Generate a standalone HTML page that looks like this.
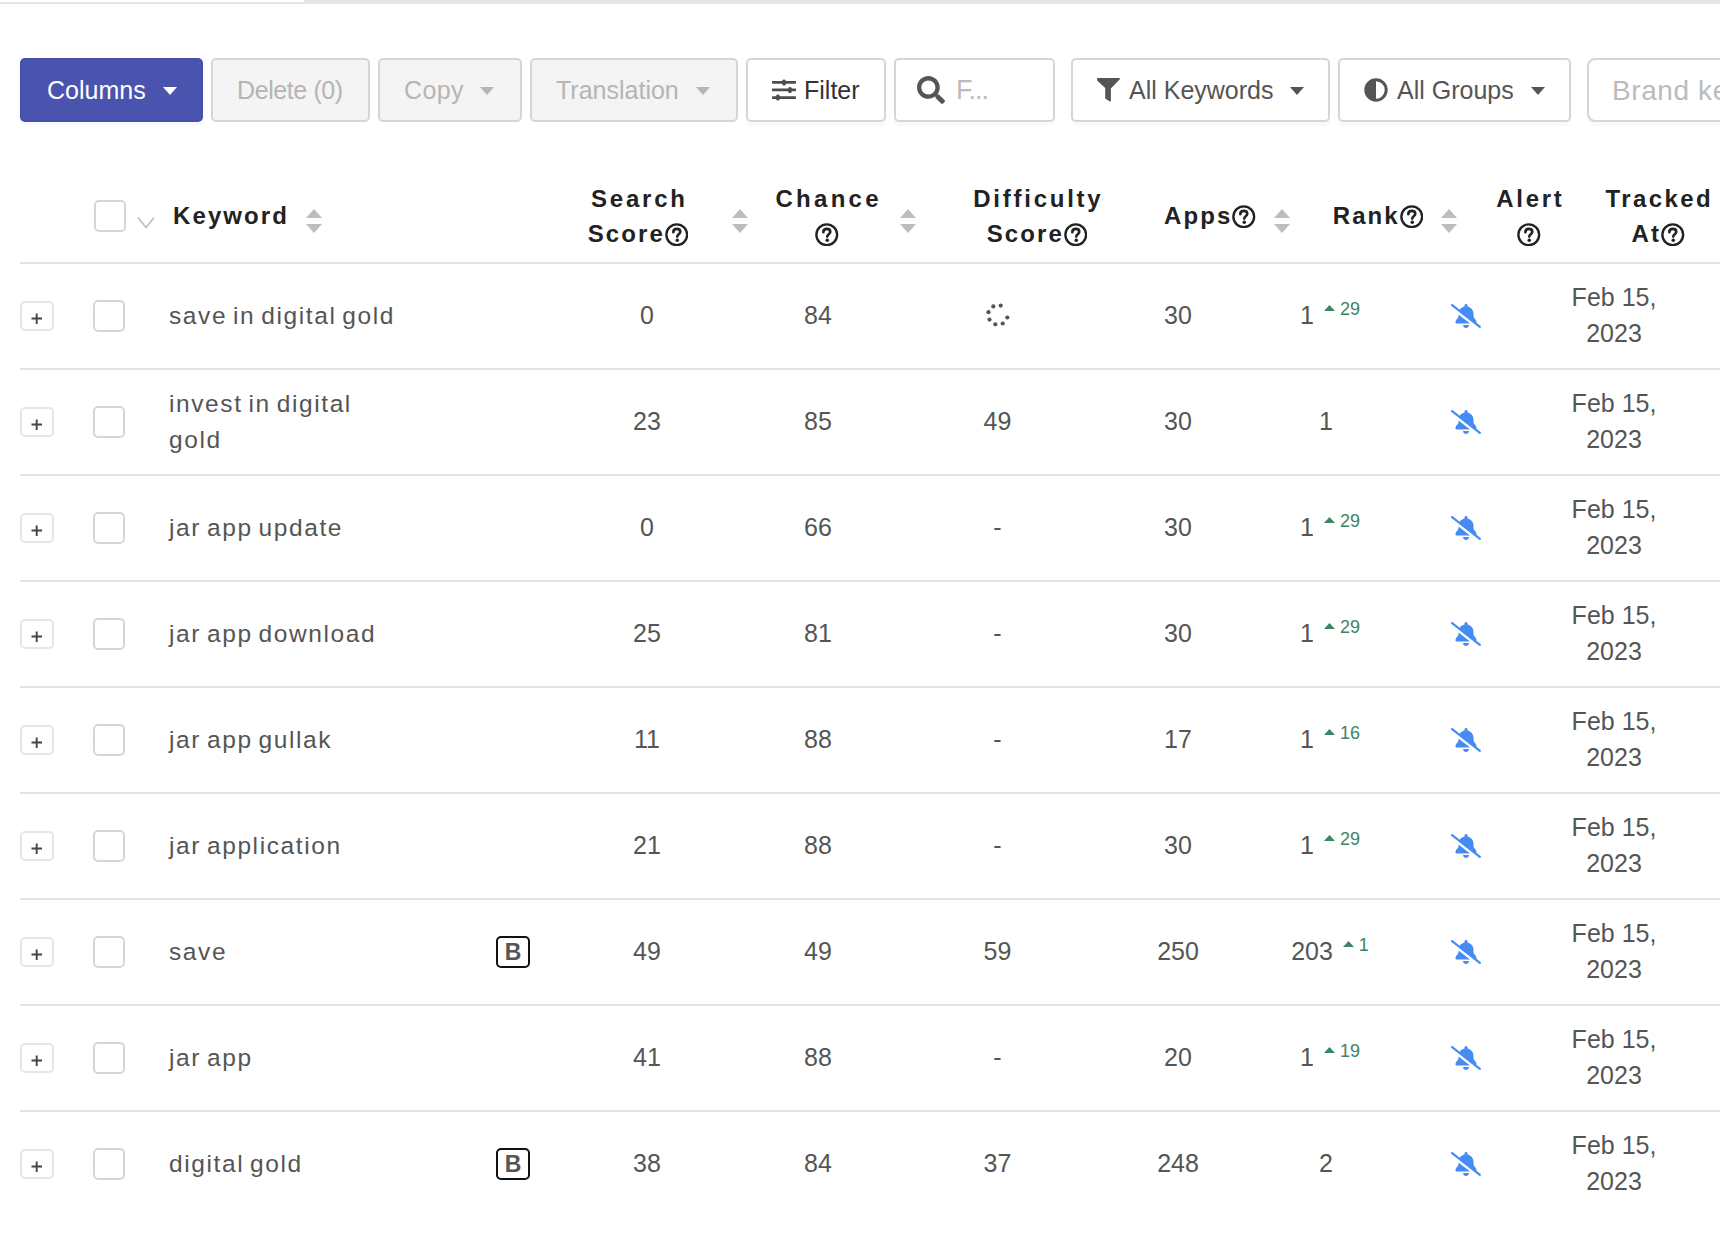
<!DOCTYPE html>
<html><head><meta charset="utf-8"><title>Keywords</title><style>
*{box-sizing:border-box;margin:0;padding:0}
html,body{width:1720px;height:1244px;overflow:hidden;background:#fff}
body{position:relative;font-family:"Liberation Sans", sans-serif;color:#555}
.a{position:absolute}
.btn{position:absolute;top:58px;height:64px;border:2px solid #d6d6d6;border-radius:5px;background:#fff;box-shadow:0 4px 0 rgba(0,0,0,0.02)}
.btn.dis{box-shadow:none}
.btn.dis{background:#f4f4f4}
.bt{position:absolute;font-size:25px;line-height:30px;top:75px;white-space:nowrap}
.car{position:absolute;width:0;height:0;border-left:7px solid transparent;border-right:7px solid transparent;border-top:8px solid #555}
.hl{position:absolute;left:20px;width:1700px;height:2px;background:#e4e4e4}
.ht{position:absolute;font-weight:bold;font-size:24px;line-height:35.5px;color:#222;letter-spacing:2.1px;white-space:nowrap}
.sort{position:absolute;width:16px;height:25px}
.qm{display:inline-block;vertical-align:top}
.pl{position:absolute;left:20px;width:34px;height:30px;border:2px solid #e6e6e6;border-radius:5px}
.cb{position:absolute;left:93px;width:32px;height:32px;border:2px solid #d6d6d6;border-radius:5px}
.kw{position:absolute;left:169px;font-size:24.5px;line-height:36px;letter-spacing:1.6px;word-spacing:-2.5px;color:#555;white-space:nowrap}
.num{position:absolute;font-size:25px;line-height:36px;color:#555;text-align:center;white-space:nowrap}
.sup{font-size:18px;color:#3b8566}
.bdg{position:absolute;left:496px;width:34px;height:32px;border:2px solid #111;border-radius:5px;text-align:center;font-weight:bold;font-size:23px;line-height:28px;color:#555}
.date{position:absolute;left:1554px;width:120px;text-align:center;font-size:25px;line-height:36px;color:#555}
</style></head>
<body>
<div class="a" style="left:0;top:0;width:1720px;height:4px;background:#e6e6e6"></div>
<div class="a" style="left:0;top:0;width:304px;height:2px;background:#fff"></div>
<div class="btn" style="left:20px;width:183px;background:#4a54ae;border-color:#4550aa"></div>
<div class="bt" style="left:47px;color:#fff">Columns</div>
<div class="car" style="left:163px;top:87px;border-left-width:7.0px;border-right-width:7.0px;border-top-width:8px;border-top-color:#fff"></div>
<div class="btn dis" style="left:211px;width:159px"></div>
<div class="bt" style="left:237px;color:#b5b5b5;letter-spacing:-0.4px">Delete (0)</div>
<div class="btn dis" style="left:378px;width:144px"></div>
<div class="bt" style="left:404px;color:#b5b5b5;letter-spacing:0.4px">Copy</div>
<div class="car" style="left:480px;top:87px;border-left-width:7.0px;border-right-width:7.0px;border-top-width:8px;border-top-color:#b5b5b5"></div>
<div class="btn dis" style="left:530px;width:208px"></div>
<div class="bt" style="left:556px;color:#b5b5b5">Translation</div>
<div class="car" style="left:696px;top:87px;border-left-width:7.0px;border-right-width:7.0px;border-top-width:8px;border-top-color:#b5b5b5"></div>
<div class="btn" style="left:746px;width:140px"></div>
<svg class="a" style="left:772px;top:79px" width="24" height="22" viewBox="0 0 24 22">
<g fill="#4d4d4d"><rect x="0" y="2" width="24" height="2.7" rx="0.6"/><rect x="0" y="9.6" width="24" height="2.7" rx="0.6"/><rect x="0" y="17.2" width="24" height="2.7" rx="0.6"/>
<rect x="10.2" y="0.4" width="3.6" height="6.2" rx="1.5"/><rect x="16.1" y="8.1" width="3.6" height="5.8" rx="1.5"/><rect x="4.1" y="15.6" width="3.6" height="6" rx="1.5"/></g></svg>
<div class="bt" style="left:804px;color:#333">Filter</div>
<div class="btn" style="left:894px;width:161px"></div>
<svg class="a" style="left:917px;top:76px" width="28" height="28" viewBox="0 0 512 512"><path fill="#555" d="M505 442.7L405.3 343c-4.5-4.5-10.6-7-17-7H372c27.6-35.3 44-79.7 44-128C416 93.1 322.9 0 208 0S0 93.1 0 208s93.1 208 208 208c48.3 0 92.7-16.4 128-44v16.3c0 6.4 2.5 12.5 7 17l99.7 99.7c9.4 9.4 24.6 9.4 33.9 0l28.3-28.3c9.4-9.4 9.4-24.6.1-34zM208 336c-70.7 0-128-57.2-128-128 0-70.7 57.2-128 128-128 70.7 0 128 57.2 128 128 0 70.7-57.2 128-128 128z"/></svg>
<div class="bt" style="left:956px;top:75px;color:#bbb;font-size:27px;letter-spacing:-1px">F...</div>
<div class="btn" style="left:1071px;width:259px"></div>
<svg class="a" style="left:1097px;top:78px" width="23" height="24" viewBox="0 0 23 24"><path fill="#555" d="M0.1 0H22.6L23 1L13.9 10.4V23L13.3 23.8L8.2 20.6V10.1L0.1 2.5Z"/></svg>
<div class="bt" style="left:1129px;color:#555">All Keywords</div>
<div class="car" style="left:1290px;top:87px;border-left-width:7.0px;border-right-width:7.0px;border-top-width:8px;border-top-color:#555"></div>
<div class="btn" style="left:1338px;width:233px"></div>
<svg class="a" style="left:1364px;top:78px" width="24" height="24" viewBox="0 0 24 24"><circle cx="12" cy="12" r="10.2" fill="none" stroke="#555" stroke-width="3"/><path fill="#555" d="M12 1.8A10.2 10.2 0 0 0 12 22.2Z"/></svg>
<div class="bt" style="left:1397px;color:#555">All Groups</div>
<div class="car" style="left:1531px;top:87px;border-left-width:7.0px;border-right-width:7.0px;border-top-width:8px;border-top-color:#555"></div>
<div class="btn" style="left:1587px;width:200px;border-radius:8px"></div>
<div class="bt" style="left:1612px;top:74px;color:#bbb;font-size:28px;line-height:34px;letter-spacing:0.6px">Brand keywords</div>
<div class="cb" style="top:200px;left:94px"></div>
<svg class="a" style="left:137px;top:216px" width="18" height="13" viewBox="0 0 18 13"><path d="M1 1.5L9 11.5L17 1.5" fill="none" stroke="#bdbdbd" stroke-width="1.6"/></svg>
<div class="ht" style="left:173px;top:198px">Keyword</div>
<svg class="sort" style="left:306px;top:209px" viewBox="0 0 16 25"><path d="M8 0L16 9H0Z" fill="#bdbdbd"/><path d="M0 15H16L8 24Z" fill="#bdbdbd"/></svg>
<div class="ht" style="left:488px;width:300px;text-align:center;top:180.5px"><span style="letter-spacing:2.8px;margin-right:-2.8px">Search</span></div><div class="ht" style="left:488px;width:300px;text-align:center;top:216.0px">Score<svg class="qm" width="23.5" height="23.5" viewBox="0 0 24 24" style="margin-top:6.5px;margin-left:0px"><circle cx="12" cy="12" r="10.6" fill="none" stroke="#222" stroke-width="2.4"/><path d="M8.5 9.4C8.5 7.3 10.1 6 12.1 6C14.1 6 15.6 7.3 15.6 9C15.6 11.4 12.5 11.6 12.5 13.9" fill="none" stroke="#222" stroke-width="2.7" stroke-linecap="round"/><circle cx="12.5" cy="17.6" r="1.8" fill="#222"/></svg></div>
<svg class="sort" style="left:732px;top:209px" viewBox="0 0 16 25"><path d="M8 0L16 9H0Z" fill="#bdbdbd"/><path d="M0 15H16L8 24Z" fill="#bdbdbd"/></svg>
<div class="ht" style="left:677px;width:300px;text-align:center;top:180.5px"><span style="letter-spacing:3.3px;margin-right:-3.3px">Chance</span></div><div class="ht" style="left:677px;width:300px;text-align:center;top:216.0px"><svg class="qm" width="23.5" height="23.5" viewBox="0 0 24 24" style="margin-top:6.5px;margin-left:0px"><circle cx="12" cy="12" r="10.6" fill="none" stroke="#222" stroke-width="2.4"/><path d="M8.5 9.4C8.5 7.3 10.1 6 12.1 6C14.1 6 15.6 7.3 15.6 9C15.6 11.4 12.5 11.6 12.5 13.9" fill="none" stroke="#222" stroke-width="2.7" stroke-linecap="round"/><circle cx="12.5" cy="17.6" r="1.8" fill="#222"/></svg></div>
<svg class="sort" style="left:900px;top:209px" viewBox="0 0 16 25"><path d="M8 0L16 9H0Z" fill="#bdbdbd"/><path d="M0 15H16L8 24Z" fill="#bdbdbd"/></svg>
<div class="ht" style="left:887px;width:300px;text-align:center;top:180.5px"><span style="letter-spacing:2.75px;margin-right:-2.75px">Difficulty</span></div><div class="ht" style="left:887px;width:300px;text-align:center;top:216.0px">Score<svg class="qm" width="23.5" height="23.5" viewBox="0 0 24 24" style="margin-top:6.5px;margin-left:0px"><circle cx="12" cy="12" r="10.6" fill="none" stroke="#222" stroke-width="2.4"/><path d="M8.5 9.4C8.5 7.3 10.1 6 12.1 6C14.1 6 15.6 7.3 15.6 9C15.6 11.4 12.5 11.6 12.5 13.9" fill="none" stroke="#222" stroke-width="2.7" stroke-linecap="round"/><circle cx="12.5" cy="17.6" r="1.8" fill="#222"/></svg></div>
<div class="ht" style="left:1060px;width:300px;text-align:center;top:198.0px">Apps<svg class="qm" width="23.5" height="23.5" viewBox="0 0 24 24" style="margin-top:6.5px;margin-left:0px"><circle cx="12" cy="12" r="10.6" fill="none" stroke="#222" stroke-width="2.4"/><path d="M8.5 9.4C8.5 7.3 10.1 6 12.1 6C14.1 6 15.6 7.3 15.6 9C15.6 11.4 12.5 11.6 12.5 13.9" fill="none" stroke="#222" stroke-width="2.7" stroke-linecap="round"/><circle cx="12.5" cy="17.6" r="1.8" fill="#222"/></svg></div>
<svg class="sort" style="left:1274px;top:209px" viewBox="0 0 16 25"><path d="M8 0L16 9H0Z" fill="#bdbdbd"/><path d="M0 15H16L8 24Z" fill="#bdbdbd"/></svg>
<div class="ht" style="left:1228px;width:300px;text-align:center;top:198.0px">Rank<svg class="qm" width="23.5" height="23.5" viewBox="0 0 24 24" style="margin-top:6.5px;margin-left:0px"><circle cx="12" cy="12" r="10.6" fill="none" stroke="#222" stroke-width="2.4"/><path d="M8.5 9.4C8.5 7.3 10.1 6 12.1 6C14.1 6 15.6 7.3 15.6 9C15.6 11.4 12.5 11.6 12.5 13.9" fill="none" stroke="#222" stroke-width="2.7" stroke-linecap="round"/><circle cx="12.5" cy="17.6" r="1.8" fill="#222"/></svg></div>
<svg class="sort" style="left:1441px;top:209px" viewBox="0 0 16 25"><path d="M8 0L16 9H0Z" fill="#bdbdbd"/><path d="M0 15H16L8 24Z" fill="#bdbdbd"/></svg>
<div class="ht" style="left:1379px;width:300px;text-align:center;top:180.5px"><span style="letter-spacing:2.7px;margin-right:-2.7px">Alert</span></div><div class="ht" style="left:1379px;width:300px;text-align:center;top:216.0px"><svg class="qm" width="23.5" height="23.5" viewBox="0 0 24 24" style="margin-top:6.5px;margin-left:0px"><circle cx="12" cy="12" r="10.6" fill="none" stroke="#222" stroke-width="2.4"/><path d="M8.5 9.4C8.5 7.3 10.1 6 12.1 6C14.1 6 15.6 7.3 15.6 9C15.6 11.4 12.5 11.6 12.5 13.9" fill="none" stroke="#222" stroke-width="2.7" stroke-linecap="round"/><circle cx="12.5" cy="17.6" r="1.8" fill="#222"/></svg></div>
<div class="ht" style="left:1508px;width:300px;text-align:center;top:180.5px"><span style="letter-spacing:2.4px;margin-right:-2.4px">Tracked</span></div><div class="ht" style="left:1508px;width:300px;text-align:center;top:216.0px">At<svg class="qm" width="23.5" height="23.5" viewBox="0 0 24 24" style="margin-top:6.5px;margin-left:0px"><circle cx="12" cy="12" r="10.6" fill="none" stroke="#222" stroke-width="2.4"/><path d="M8.5 9.4C8.5 7.3 10.1 6 12.1 6C14.1 6 15.6 7.3 15.6 9C15.6 11.4 12.5 11.6 12.5 13.9" fill="none" stroke="#222" stroke-width="2.7" stroke-linecap="round"/><circle cx="12.5" cy="17.6" r="1.8" fill="#222"/></svg></div>
<div class="hl" style="top:262px"></div>
<div class="pl" style="top:301px"></div>
<svg class="a" style="left:31px;top:313px" width="12" height="12" viewBox="0 0 12 12"><path d="M0.5 5.5H11M5.7 0.5V11" stroke="#444" stroke-width="1.9"/></svg>
<div class="cb" style="top:300px"></div>
<div class="kw" style="top:298px">save in digital gold</div>
<div class="num" style="left:587px;width:120px;top:297px">0</div>
<div class="num" style="left:758px;width:120px;top:297px">84</div>
<svg class="a" style="left:0;top:0" width="1720" height="1244"><circle cx="993.3" cy="306.4" r="2.1" fill="#555"/><circle cx="1000.7" cy="305.6" r="2.1" fill="#555"/><circle cx="988.5" cy="312.2" r="2.1" fill="#555"/><circle cx="1007.3" cy="317.5" r="2.1" fill="#555"/><circle cx="989.5" cy="319.6" r="2.1" fill="#555"/><circle cx="995.3" cy="324.3" r="2.1" fill="#555"/><circle cx="1002.7" cy="323.5" r="2.1" fill="#555"/></svg>
<div class="num" style="left:1118px;width:120px;top:297px">30</div>
<div class="num" style="left:1250px;width:160px;top:297px">1<svg width="11" height="6" viewBox="0 0 11 6" style="margin-left:10px;position:relative;top:-13.2px"><path d="M5.5 0L11 6H0Z" fill="#3b8566"/></svg><span class="sup" style="position:relative;top:-9.2px;margin-left:5px">29</span></div>
<svg class="a" style="left:1451px;top:304px" width="30" height="24" viewBox="0 0 640 512"><g fill="#448cf4"><path d="M38.8 5.1C28.4-3.1 13.3-1.2 5.1 9.2S-1.2 34.7 9.2 42.9l592 464c10.4 8.2 25.5 6.3 33.7-4.1s6.3-25.5-4.1-33.7l-87.5-68.6c.5-1.7 .7-3.5 .7-5.4c0-27.6-11-54.1-30.5-73.7L512 320c-20.5-20.5-32-48.3-32-77.3V208c0-77.4-55-142-128-156.8V32c0-17.7-14.3-32-32-32s-32 14.3-32 32V51.2c-42.6 8.6-79 34.2-102 69.3L38.8 5.1zM160 242.7c0 29-11.5 56.8-32 77.3l-1.5 1.5C107 341 96 367.5 96 395.2c0 11.5 9.3 20.8 20.8 20.8H406.2L160 222.1v20.7zM384 448H320 256c0 17 6.7 33.3 18.7 45.3s28.3 18.7 45.3 18.7s33.3-6.7 45.3-18.7s18.7-28.3 18.7-45.3z"/></g></svg>
<div class="date" style="top:279px">Feb 15,<br>2023</div>
<div class="hl" style="top:368px"></div>
<div class="pl" style="top:407px"></div>
<svg class="a" style="left:31px;top:419px" width="12" height="12" viewBox="0 0 12 12"><path d="M0.5 5.5H11M5.7 0.5V11" stroke="#444" stroke-width="1.9"/></svg>
<div class="cb" style="top:406px"></div>
<div class="kw" style="top:386px">invest in digital<br>gold</div>
<div class="num" style="left:587px;width:120px;top:403px">23</div>
<div class="num" style="left:758px;width:120px;top:403px">85</div>
<div class="num" style="left:937.5px;width:120px;top:403px">49</div>
<div class="num" style="left:1118px;width:120px;top:403px">30</div>
<div class="num" style="left:1266px;width:120px;top:403px">1</div>
<svg class="a" style="left:1451px;top:410px" width="30" height="24" viewBox="0 0 640 512"><g fill="#448cf4"><path d="M38.8 5.1C28.4-3.1 13.3-1.2 5.1 9.2S-1.2 34.7 9.2 42.9l592 464c10.4 8.2 25.5 6.3 33.7-4.1s6.3-25.5-4.1-33.7l-87.5-68.6c.5-1.7 .7-3.5 .7-5.4c0-27.6-11-54.1-30.5-73.7L512 320c-20.5-20.5-32-48.3-32-77.3V208c0-77.4-55-142-128-156.8V32c0-17.7-14.3-32-32-32s-32 14.3-32 32V51.2c-42.6 8.6-79 34.2-102 69.3L38.8 5.1zM160 242.7c0 29-11.5 56.8-32 77.3l-1.5 1.5C107 341 96 367.5 96 395.2c0 11.5 9.3 20.8 20.8 20.8H406.2L160 222.1v20.7zM384 448H320 256c0 17 6.7 33.3 18.7 45.3s28.3 18.7 45.3 18.7s33.3-6.7 45.3-18.7s18.7-28.3 18.7-45.3z"/></g></svg>
<div class="date" style="top:385px">Feb 15,<br>2023</div>
<div class="hl" style="top:474px"></div>
<div class="pl" style="top:513px"></div>
<svg class="a" style="left:31px;top:525px" width="12" height="12" viewBox="0 0 12 12"><path d="M0.5 5.5H11M5.7 0.5V11" stroke="#444" stroke-width="1.9"/></svg>
<div class="cb" style="top:512px"></div>
<div class="kw" style="top:510px">jar app update</div>
<div class="num" style="left:587px;width:120px;top:509px">0</div>
<div class="num" style="left:758px;width:120px;top:509px">66</div>
<div class="num" style="left:937.5px;width:120px;top:509px">-</div>
<div class="num" style="left:1118px;width:120px;top:509px">30</div>
<div class="num" style="left:1250px;width:160px;top:509px">1<svg width="11" height="6" viewBox="0 0 11 6" style="margin-left:10px;position:relative;top:-13.2px"><path d="M5.5 0L11 6H0Z" fill="#3b8566"/></svg><span class="sup" style="position:relative;top:-9.2px;margin-left:5px">29</span></div>
<svg class="a" style="left:1451px;top:516px" width="30" height="24" viewBox="0 0 640 512"><g fill="#448cf4"><path d="M38.8 5.1C28.4-3.1 13.3-1.2 5.1 9.2S-1.2 34.7 9.2 42.9l592 464c10.4 8.2 25.5 6.3 33.7-4.1s6.3-25.5-4.1-33.7l-87.5-68.6c.5-1.7 .7-3.5 .7-5.4c0-27.6-11-54.1-30.5-73.7L512 320c-20.5-20.5-32-48.3-32-77.3V208c0-77.4-55-142-128-156.8V32c0-17.7-14.3-32-32-32s-32 14.3-32 32V51.2c-42.6 8.6-79 34.2-102 69.3L38.8 5.1zM160 242.7c0 29-11.5 56.8-32 77.3l-1.5 1.5C107 341 96 367.5 96 395.2c0 11.5 9.3 20.8 20.8 20.8H406.2L160 222.1v20.7zM384 448H320 256c0 17 6.7 33.3 18.7 45.3s28.3 18.7 45.3 18.7s33.3-6.7 45.3-18.7s18.7-28.3 18.7-45.3z"/></g></svg>
<div class="date" style="top:491px">Feb 15,<br>2023</div>
<div class="hl" style="top:580px"></div>
<div class="pl" style="top:619px"></div>
<svg class="a" style="left:31px;top:631px" width="12" height="12" viewBox="0 0 12 12"><path d="M0.5 5.5H11M5.7 0.5V11" stroke="#444" stroke-width="1.9"/></svg>
<div class="cb" style="top:618px"></div>
<div class="kw" style="top:616px">jar app download</div>
<div class="num" style="left:587px;width:120px;top:615px">25</div>
<div class="num" style="left:758px;width:120px;top:615px">81</div>
<div class="num" style="left:937.5px;width:120px;top:615px">-</div>
<div class="num" style="left:1118px;width:120px;top:615px">30</div>
<div class="num" style="left:1250px;width:160px;top:615px">1<svg width="11" height="6" viewBox="0 0 11 6" style="margin-left:10px;position:relative;top:-13.2px"><path d="M5.5 0L11 6H0Z" fill="#3b8566"/></svg><span class="sup" style="position:relative;top:-9.2px;margin-left:5px">29</span></div>
<svg class="a" style="left:1451px;top:622px" width="30" height="24" viewBox="0 0 640 512"><g fill="#448cf4"><path d="M38.8 5.1C28.4-3.1 13.3-1.2 5.1 9.2S-1.2 34.7 9.2 42.9l592 464c10.4 8.2 25.5 6.3 33.7-4.1s6.3-25.5-4.1-33.7l-87.5-68.6c.5-1.7 .7-3.5 .7-5.4c0-27.6-11-54.1-30.5-73.7L512 320c-20.5-20.5-32-48.3-32-77.3V208c0-77.4-55-142-128-156.8V32c0-17.7-14.3-32-32-32s-32 14.3-32 32V51.2c-42.6 8.6-79 34.2-102 69.3L38.8 5.1zM160 242.7c0 29-11.5 56.8-32 77.3l-1.5 1.5C107 341 96 367.5 96 395.2c0 11.5 9.3 20.8 20.8 20.8H406.2L160 222.1v20.7zM384 448H320 256c0 17 6.7 33.3 18.7 45.3s28.3 18.7 45.3 18.7s33.3-6.7 45.3-18.7s18.7-28.3 18.7-45.3z"/></g></svg>
<div class="date" style="top:597px">Feb 15,<br>2023</div>
<div class="hl" style="top:686px"></div>
<div class="pl" style="top:725px"></div>
<svg class="a" style="left:31px;top:737px" width="12" height="12" viewBox="0 0 12 12"><path d="M0.5 5.5H11M5.7 0.5V11" stroke="#444" stroke-width="1.9"/></svg>
<div class="cb" style="top:724px"></div>
<div class="kw" style="top:722px">jar app gullak</div>
<div class="num" style="left:587px;width:120px;top:721px">11</div>
<div class="num" style="left:758px;width:120px;top:721px">88</div>
<div class="num" style="left:937.5px;width:120px;top:721px">-</div>
<div class="num" style="left:1118px;width:120px;top:721px">17</div>
<div class="num" style="left:1250px;width:160px;top:721px">1<svg width="11" height="6" viewBox="0 0 11 6" style="margin-left:10px;position:relative;top:-13.2px"><path d="M5.5 0L11 6H0Z" fill="#3b8566"/></svg><span class="sup" style="position:relative;top:-9.2px;margin-left:5px">16</span></div>
<svg class="a" style="left:1451px;top:728px" width="30" height="24" viewBox="0 0 640 512"><g fill="#448cf4"><path d="M38.8 5.1C28.4-3.1 13.3-1.2 5.1 9.2S-1.2 34.7 9.2 42.9l592 464c10.4 8.2 25.5 6.3 33.7-4.1s6.3-25.5-4.1-33.7l-87.5-68.6c.5-1.7 .7-3.5 .7-5.4c0-27.6-11-54.1-30.5-73.7L512 320c-20.5-20.5-32-48.3-32-77.3V208c0-77.4-55-142-128-156.8V32c0-17.7-14.3-32-32-32s-32 14.3-32 32V51.2c-42.6 8.6-79 34.2-102 69.3L38.8 5.1zM160 242.7c0 29-11.5 56.8-32 77.3l-1.5 1.5C107 341 96 367.5 96 395.2c0 11.5 9.3 20.8 20.8 20.8H406.2L160 222.1v20.7zM384 448H320 256c0 17 6.7 33.3 18.7 45.3s28.3 18.7 45.3 18.7s33.3-6.7 45.3-18.7s18.7-28.3 18.7-45.3z"/></g></svg>
<div class="date" style="top:703px">Feb 15,<br>2023</div>
<div class="hl" style="top:792px"></div>
<div class="pl" style="top:831px"></div>
<svg class="a" style="left:31px;top:843px" width="12" height="12" viewBox="0 0 12 12"><path d="M0.5 5.5H11M5.7 0.5V11" stroke="#444" stroke-width="1.9"/></svg>
<div class="cb" style="top:830px"></div>
<div class="kw" style="top:828px">jar application</div>
<div class="num" style="left:587px;width:120px;top:827px">21</div>
<div class="num" style="left:758px;width:120px;top:827px">88</div>
<div class="num" style="left:937.5px;width:120px;top:827px">-</div>
<div class="num" style="left:1118px;width:120px;top:827px">30</div>
<div class="num" style="left:1250px;width:160px;top:827px">1<svg width="11" height="6" viewBox="0 0 11 6" style="margin-left:10px;position:relative;top:-13.2px"><path d="M5.5 0L11 6H0Z" fill="#3b8566"/></svg><span class="sup" style="position:relative;top:-9.2px;margin-left:5px">29</span></div>
<svg class="a" style="left:1451px;top:834px" width="30" height="24" viewBox="0 0 640 512"><g fill="#448cf4"><path d="M38.8 5.1C28.4-3.1 13.3-1.2 5.1 9.2S-1.2 34.7 9.2 42.9l592 464c10.4 8.2 25.5 6.3 33.7-4.1s6.3-25.5-4.1-33.7l-87.5-68.6c.5-1.7 .7-3.5 .7-5.4c0-27.6-11-54.1-30.5-73.7L512 320c-20.5-20.5-32-48.3-32-77.3V208c0-77.4-55-142-128-156.8V32c0-17.7-14.3-32-32-32s-32 14.3-32 32V51.2c-42.6 8.6-79 34.2-102 69.3L38.8 5.1zM160 242.7c0 29-11.5 56.8-32 77.3l-1.5 1.5C107 341 96 367.5 96 395.2c0 11.5 9.3 20.8 20.8 20.8H406.2L160 222.1v20.7zM384 448H320 256c0 17 6.7 33.3 18.7 45.3s28.3 18.7 45.3 18.7s33.3-6.7 45.3-18.7s18.7-28.3 18.7-45.3z"/></g></svg>
<div class="date" style="top:809px">Feb 15,<br>2023</div>
<div class="hl" style="top:898px"></div>
<div class="pl" style="top:937px"></div>
<svg class="a" style="left:31px;top:949px" width="12" height="12" viewBox="0 0 12 12"><path d="M0.5 5.5H11M5.7 0.5V11" stroke="#444" stroke-width="1.9"/></svg>
<div class="cb" style="top:936px"></div>
<div class="kw" style="top:934px">save</div>
<div class="bdg" style="top:936px">B</div>
<div class="num" style="left:587px;width:120px;top:933px">49</div>
<div class="num" style="left:758px;width:120px;top:933px">49</div>
<div class="num" style="left:937.5px;width:120px;top:933px">59</div>
<div class="num" style="left:1118px;width:120px;top:933px">250</div>
<div class="num" style="left:1250px;width:160px;top:933px">203<svg width="11" height="6" viewBox="0 0 11 6" style="margin-left:10px;position:relative;top:-13.2px"><path d="M5.5 0L11 6H0Z" fill="#3b8566"/></svg><span class="sup" style="position:relative;top:-9.2px;margin-left:5px">1</span></div>
<svg class="a" style="left:1451px;top:940px" width="30" height="24" viewBox="0 0 640 512"><g fill="#448cf4"><path d="M38.8 5.1C28.4-3.1 13.3-1.2 5.1 9.2S-1.2 34.7 9.2 42.9l592 464c10.4 8.2 25.5 6.3 33.7-4.1s6.3-25.5-4.1-33.7l-87.5-68.6c.5-1.7 .7-3.5 .7-5.4c0-27.6-11-54.1-30.5-73.7L512 320c-20.5-20.5-32-48.3-32-77.3V208c0-77.4-55-142-128-156.8V32c0-17.7-14.3-32-32-32s-32 14.3-32 32V51.2c-42.6 8.6-79 34.2-102 69.3L38.8 5.1zM160 242.7c0 29-11.5 56.8-32 77.3l-1.5 1.5C107 341 96 367.5 96 395.2c0 11.5 9.3 20.8 20.8 20.8H406.2L160 222.1v20.7zM384 448H320 256c0 17 6.7 33.3 18.7 45.3s28.3 18.7 45.3 18.7s33.3-6.7 45.3-18.7s18.7-28.3 18.7-45.3z"/></g></svg>
<div class="date" style="top:915px">Feb 15,<br>2023</div>
<div class="hl" style="top:1004px"></div>
<div class="pl" style="top:1043px"></div>
<svg class="a" style="left:31px;top:1055px" width="12" height="12" viewBox="0 0 12 12"><path d="M0.5 5.5H11M5.7 0.5V11" stroke="#444" stroke-width="1.9"/></svg>
<div class="cb" style="top:1042px"></div>
<div class="kw" style="top:1040px">jar app</div>
<div class="num" style="left:587px;width:120px;top:1039px">41</div>
<div class="num" style="left:758px;width:120px;top:1039px">88</div>
<div class="num" style="left:937.5px;width:120px;top:1039px">-</div>
<div class="num" style="left:1118px;width:120px;top:1039px">20</div>
<div class="num" style="left:1250px;width:160px;top:1039px">1<svg width="11" height="6" viewBox="0 0 11 6" style="margin-left:10px;position:relative;top:-13.2px"><path d="M5.5 0L11 6H0Z" fill="#3b8566"/></svg><span class="sup" style="position:relative;top:-9.2px;margin-left:5px">19</span></div>
<svg class="a" style="left:1451px;top:1046px" width="30" height="24" viewBox="0 0 640 512"><g fill="#448cf4"><path d="M38.8 5.1C28.4-3.1 13.3-1.2 5.1 9.2S-1.2 34.7 9.2 42.9l592 464c10.4 8.2 25.5 6.3 33.7-4.1s6.3-25.5-4.1-33.7l-87.5-68.6c.5-1.7 .7-3.5 .7-5.4c0-27.6-11-54.1-30.5-73.7L512 320c-20.5-20.5-32-48.3-32-77.3V208c0-77.4-55-142-128-156.8V32c0-17.7-14.3-32-32-32s-32 14.3-32 32V51.2c-42.6 8.6-79 34.2-102 69.3L38.8 5.1zM160 242.7c0 29-11.5 56.8-32 77.3l-1.5 1.5C107 341 96 367.5 96 395.2c0 11.5 9.3 20.8 20.8 20.8H406.2L160 222.1v20.7zM384 448H320 256c0 17 6.7 33.3 18.7 45.3s28.3 18.7 45.3 18.7s33.3-6.7 45.3-18.7s18.7-28.3 18.7-45.3z"/></g></svg>
<div class="date" style="top:1021px">Feb 15,<br>2023</div>
<div class="hl" style="top:1110px"></div>
<div class="pl" style="top:1149px"></div>
<svg class="a" style="left:31px;top:1161px" width="12" height="12" viewBox="0 0 12 12"><path d="M0.5 5.5H11M5.7 0.5V11" stroke="#444" stroke-width="1.9"/></svg>
<div class="cb" style="top:1148px"></div>
<div class="kw" style="top:1146px">digital gold</div>
<div class="bdg" style="top:1148px">B</div>
<div class="num" style="left:587px;width:120px;top:1145px">38</div>
<div class="num" style="left:758px;width:120px;top:1145px">84</div>
<div class="num" style="left:937.5px;width:120px;top:1145px">37</div>
<div class="num" style="left:1118px;width:120px;top:1145px">248</div>
<div class="num" style="left:1266px;width:120px;top:1145px">2</div>
<svg class="a" style="left:1451px;top:1152px" width="30" height="24" viewBox="0 0 640 512"><g fill="#448cf4"><path d="M38.8 5.1C28.4-3.1 13.3-1.2 5.1 9.2S-1.2 34.7 9.2 42.9l592 464c10.4 8.2 25.5 6.3 33.7-4.1s6.3-25.5-4.1-33.7l-87.5-68.6c.5-1.7 .7-3.5 .7-5.4c0-27.6-11-54.1-30.5-73.7L512 320c-20.5-20.5-32-48.3-32-77.3V208c0-77.4-55-142-128-156.8V32c0-17.7-14.3-32-32-32s-32 14.3-32 32V51.2c-42.6 8.6-79 34.2-102 69.3L38.8 5.1zM160 242.7c0 29-11.5 56.8-32 77.3l-1.5 1.5C107 341 96 367.5 96 395.2c0 11.5 9.3 20.8 20.8 20.8H406.2L160 222.1v20.7zM384 448H320 256c0 17 6.7 33.3 18.7 45.3s28.3 18.7 45.3 18.7s33.3-6.7 45.3-18.7s18.7-28.3 18.7-45.3z"/></g></svg>
<div class="date" style="top:1127px">Feb 15,<br>2023</div>
</body></html>
